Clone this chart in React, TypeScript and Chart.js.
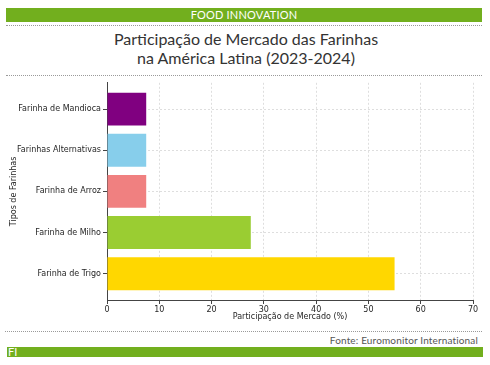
import React, { useEffect, useRef } from "react";
import { Chart, registerables } from "chart.js";

Chart.register(...registerables);

const categories = [
  "Farinha de Trigo",
  "Farinha de Milho",
  "Farinha de Arroz",
  "Farinhas Alternativas",
  "Farinha de Mandioca",
];
const shares = [55, 27.5, 7.5, 7.5, 7.5];
const barColors = ["#FFD700", "#9ACD32", "#F08080", "#87CEEB", "#800080"];
const xTicks = [0, 10, 20, 30, 40, 50, 60, 70];

const titleLine1 = "Participação de Mercado das Farinhas";
const titleLine2 = "na América Latina (2023-2024)";
const headerText = "FOOD INNOVATION";
const sourceText = "Fonte: Euromonitor International";
const xTitle = "Participação de Mercado (%)";
const yTitle = "Tipos de Farinhas";

const GREEN = "#72AF1E";
const TEXT = "#262626";
const TICKFONT = "'DejaVu Sans', sans-serif";
const GEO = "'Lato', 'Noto Sans', sans-serif";

export default function App() {
  const canvasRef = useRef<HTMLCanvasElement | null>(null);

  useEffect(() => {
    document.body.style.margin = "0";
    const ctx = canvasRef.current;
    if (!ctx) return;
    const chart = new Chart(ctx, {
      type: "bar",
      data: {
        datasets: [
          {
            data: shares.map((v, i) => ({ x: v, y: i })),
            backgroundColor: barColors,
            borderWidth: 0,
            categoryPercentage: 1,
            barPercentage: 0.8,
          },
        ],
      },
      options: {
        indexAxis: "y",
        animation: false,
        responsive: false,
        maintainAspectRatio: false,
        layout: { padding: { top: 5, right: 17, left: 9, bottom: 6 } },
        plugins: { legend: { display: false }, tooltip: { enabled: false } },
        scales: {
          x: {
            type: "linear",
            min: 0,
            max: 70,
            afterBuildTicks: (s: any) => {
              s.ticks = xTicks.map((v) => ({ value: v }));
            },
            afterFit: (s: any) => {
              s.height = 22;
            },
            grid: {
              color: "#dedede",
              drawTicks: true,
              tickLength: 4,
              tickColor: "#444444",
              tickBorderDash: [],
            } as any,
            border: { display: true, color: "#444444", width: 1, dash: [2, 2] } as any,
            ticks: {
              color: TEXT,
              font: { family: TICKFONT, size: 8 },
              padding: 1,
              maxRotation: 0,
            },
            title: {
              display: true,
              text: xTitle,
              color: TEXT,
              font: { family: TICKFONT, size: 8 },
              padding: { top: 1, bottom: 0 },
            },
          },
          y: {
            type: "linear",
            min: -0.64,
            max: 4.64,
            offset: false,
            afterBuildTicks: (s: any) => {
              s.ticks = categories.map((_, i) => ({ value: i }));
            },
            afterFit: (s: any) => {
              s.width = 98;
            },
            grid: {
              color: "#dedede",
              offset: false,
              drawTicks: true,
              tickLength: 4,
              tickColor: "#444444",
              tickBorderDash: [],
            } as any,
            border: { display: true, color: "#444444", width: 1, dash: [2, 2] } as any,
            ticks: {
              color: TEXT,
              font: { family: TICKFONT, size: 8 },
              padding: 2,
              callback: (v: any) => categories[Math.round(Number(v))] ?? "",
            },
            title: {
              display: true,
              text: yTitle,
              color: TEXT,
              font: { family: TICKFONT, size: 8 },
              padding: { top: 0, bottom: 0 },
            },
          },
        },
      },
    } as any);
    return () => chart.destroy();
  }, []);

  const dotted: React.CSSProperties = {
    position: "absolute",
    height: 0,
    borderTop: "1px dotted #9a9a9a",
  };

  return (
    <div style={{ position: "relative", width: 490, height: 365, background: "#fff", overflow: "hidden" }}>
      <div
        style={{
          position: "absolute",
          left: 6,
          top: 8,
          width: 476,
          height: 14,
          background: GREEN,
          color: "#fff",
          fontFamily: GEO,
          fontSize: 11,
          lineHeight: "14px",
          textAlign: "center",
          letterSpacing: 0.2,
        }}
      >
        {headerText}
      </div>
      <div style={{ ...dotted, left: 6, top: 25, width: 476 }} />
      <div
        style={{
          position: "absolute",
          left: 0,
          top: 29,
          width: 492,
          textAlign: "center",
          fontFamily: GEO,
          fontSize: 16,
          lineHeight: "19px",
          color: "#333",
        }}
      >
        <div>{titleLine1}</div>
        <div>{titleLine2}</div>
      </div>
      <div style={{ ...dotted, left: 6, top: 75, width: 476 }} />
      <canvas
        ref={canvasRef}
        width={490}
        height={252}
        style={{ position: "absolute", left: 0, top: 76, width: 490, height: 252 }}
      />
      <div style={{ ...dotted, left: 5, top: 331, width: 477 }} />
      <div
        style={{
          position: "absolute",
          right: 12,
          top: 333,
          fontFamily: GEO,
          fontSize: 10,
          fontWeight: 400,
          lineHeight: "14px",
          color: "#555",
          letterSpacing: 0.15,
        }}
      >
        {sourceText}
      </div>
      <div
        style={{
          position: "absolute",
          left: 7,
          top: 347,
          width: 476,
          height: 10,
          background: GREEN,
          color: "#fff",
          fontFamily: GEO,
          fontSize: 11,
          lineHeight: "10px",
          paddingLeft: 1,
          boxSizing: "border-box",
        }}
      >
        FI
      </div>
    </div>
  );
}
